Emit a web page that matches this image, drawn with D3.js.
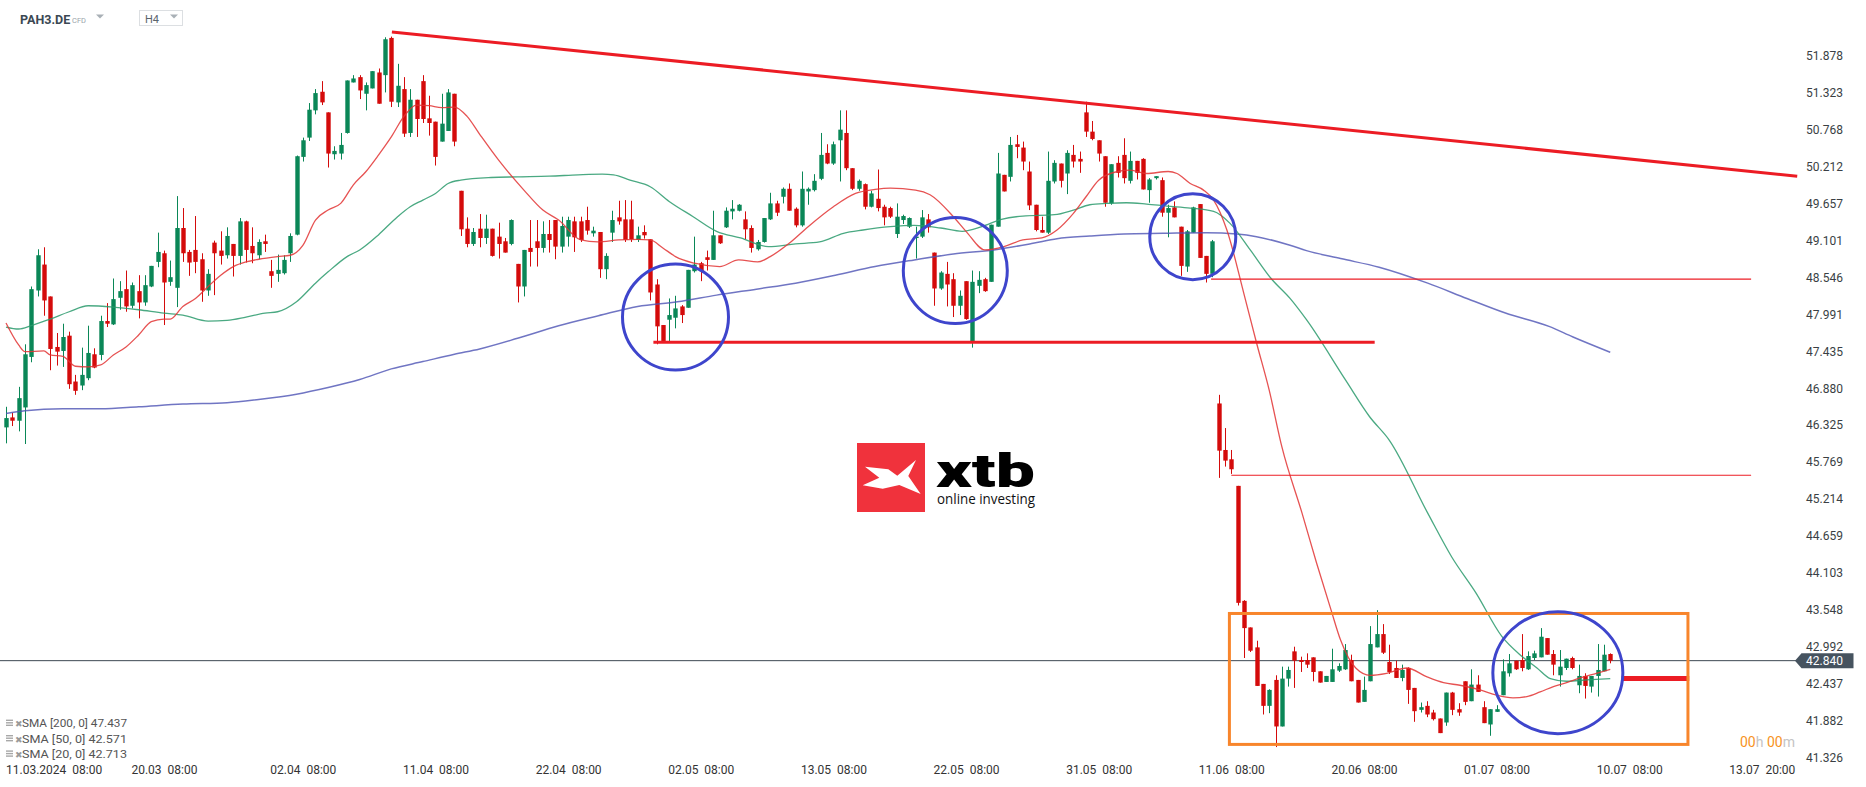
<!DOCTYPE html>
<html><head><meta charset="utf-8">
<script src="https://cdn.jsdelivr.net/npm/d3@7"></script>
<style>html,body{margin:0;padding:0;background:#fff;}svg{display:block;font-family:Roboto,"Noto Sans",sans-serif;}</style>
</head><body><svg id="c" width="1866" height="787"></svg>
<script>
// ---------- DATA (H4 candles, PAH3.DE) ----------
const opens=[46.29,46.44,46.39,46.59,47.35,48.35,48.74,48.26,47.50,47.44,
47.67,46.98,46.92,47.03,47.39,47.38,47.89,47.84,48.24,48.37,
48.12,48.34,48.17,48.41,48.78,48.91,48.48,48.39,49.29,48.93,
48.96,48.82,48.35,49.07,48.95,48.88,49.05,48.87,49.39,49.02,
48.88,49.09,48.64,48.60,48.61,48.91,49.19,50.36,50.65,51.06,
51.34,51.03,50.40,50.41,50.72,51.48,51.56,51.31,51.39,51.63,
51.59,52.15,51.18,51.38,50.72,51.22,51.50,50.94,50.89,50.59,
50.75,51.31,49.85,49.28,49.05,49.28,49.14,49.28,49.16,49.09,
49.05,48.75,48.41,48.99,49.09,48.99,49.20,49.41,49.01,49.16,
49.39,49.39,49.41,49.21,49.23,48.67,49.22,49.45,49.42,49.42,
49.11,49.23,49.12,48.44,47.83,47.91,47.94,48.11,48.09,48.64,
48.76,48.85,48.81,49.18,49.30,49.54,49.55,49.42,49.29,48.97,
49.08,49.42,49.66,49.76,49.88,49.58,49.33,49.84,49.86,50.03,
50.42,50.26,50.61,50.72,50.19,49.88,49.95,49.61,49.73,49.61,
49.59,49.20,49.41,49.31,49.14,49.16,49.42,48.92,48.38,48.60,
48.52,48.12,48.49,47.59,48.42,48.52,48.48,49.31,50.09,50.06,
50.55,50.50,50.14,49.64,49.26,49.22,49.99,50.26,50.11,50.39,
50.33,51.03,50.74,50.61,50.37,49.66,50.27,50.39,50.00,50.30,
50.33,49.86,50.04,50.01,49.52,49.60,49.31,48.71,49.22,49.65,
48.87,48.60,46.65,45.95,45.81,45.41,43.68,43.28,42.98,42.43,
42.10,42.49,41.79,42.51,42.92,42.79,42.79,42.83,42.62,42.46,
42.46,42.63,42.65,42.79,42.49,42.16,42.47,42.98,43.18,42.76,
42.67,42.52,42.67,42.37,42.04,42.10,42.00,41.91,41.85,42.30,
42.05,42.47,42.17,42.42,42.08,41.82,42.01,42.26,42.59,42.78,
42.79,42.65,42.82,42.83,43.12,42.88,42.56,42.67,42.82,42.41,
42.55,42.39,42.55,42.62,42.88];
const highs=[46.60,46.51,46.90,47.54,48.41,48.97,49.00,48.26,47.71,47.85,
47.73,47.08,47.49,47.82,47.48,47.97,48.16,48.53,48.49,48.65,
48.47,48.58,48.58,48.72,49.22,48.95,48.80,49.77,49.59,48.96,
49.47,48.91,48.67,49.10,49.24,49.30,49.05,49.44,49.40,49.30,
49.12,49.19,48.81,48.89,48.88,49.21,50.38,50.65,51.17,51.38,
51.50,51.03,50.52,50.72,51.51,51.59,51.59,51.48,51.65,51.69,
52.16,52.17,51.76,51.56,51.38,51.22,51.59,51.28,50.89,51.31,
51.38,51.31,49.85,49.45,49.29,49.50,49.49,49.28,49.37,49.14,
49.42,48.75,48.96,49.41,49.41,49.39,49.41,49.41,49.46,49.46,
49.46,49.46,49.61,49.31,49.23,48.91,49.55,49.70,49.71,49.70,
49.31,49.33,49.12,48.52,47.83,48.23,48.27,48.13,48.66,49.16,
48.78,48.95,49.55,49.18,49.60,49.71,49.65,49.54,49.33,49.11,
49.44,49.82,49.70,49.90,49.96,49.60,50.14,49.90,50.10,50.72,
50.55,50.59,51.06,51.06,50.19,50.02,49.96,49.85,50.17,49.64,
49.61,49.66,49.49,49.45,49.31,49.56,49.50,48.92,48.64,48.78,
48.61,48.35,48.49,48.65,48.64,48.54,49.34,50.42,50.09,50.66,
50.69,50.59,50.29,49.64,49.46,50.44,50.31,50.26,50.46,50.54,
50.44,51.19,50.90,50.61,50.37,50.25,50.37,50.64,50.44,50.30,
50.34,50.04,50.07,50.05,49.64,49.69,49.31,49.26,49.61,49.65,
48.87,49.11,46.78,46.28,45.95,45.41,43.69,43.28,43.08,42.43,
42.35,42.56,42.69,42.69,42.99,42.84,42.89,42.83,42.62,42.55,
42.96,42.74,43.03,42.87,42.49,42.54,43.30,43.54,43.33,43.02,
42.78,42.72,42.68,42.37,42.15,42.17,42.04,41.91,42.30,42.31,
42.14,42.47,42.65,42.56,42.17,42.05,42.11,42.80,42.88,42.78,
43.18,42.92,42.93,43.27,43.12,42.94,42.94,42.81,42.84,42.72,
42.59,42.55,43.03,43.02,42.89];
const lows=[46.05,46.31,46.23,46.04,47.27,48.26,47.97,47.15,47.22,47.20,
46.87,46.78,46.85,47.00,47.18,47.30,47.80,47.83,48.06,48.03,
48.08,47.93,48.12,48.40,48.70,47.83,48.42,48.10,48.78,48.57,
48.61,48.18,48.27,48.28,48.74,48.83,48.56,48.74,48.77,48.76,
48.82,48.93,48.39,48.48,48.59,48.78,49.18,50.29,50.60,51.00,
51.14,50.20,50.32,50.32,50.71,51.48,51.23,51.06,51.39,51.16,
51.33,51.11,51.11,50.66,50.66,50.66,50.87,50.68,50.23,50.59,
50.75,50.52,49.17,49.00,49.02,49.00,49.05,48.86,48.83,48.92,
49.03,48.17,48.26,48.71,48.71,48.92,48.92,48.82,48.92,49.01,
48.93,49.08,49.19,49.16,48.54,48.52,49.08,49.34,49.08,49.08,
49.08,49.13,48.20,47.54,47.57,47.59,47.78,47.86,48.09,48.62,
48.49,48.65,48.81,49.05,49.29,49.42,49.54,49.12,48.92,48.95,
49.07,49.41,49.47,49.66,49.55,49.30,49.31,49.64,49.84,50.01,
50.25,50.24,49.99,50.16,49.86,49.85,49.57,49.60,49.54,49.33,
49.44,49.14,49.35,49.29,48.83,49.14,49.22,48.12,48.36,48.11,
47.95,47.98,47.91,47.49,48.31,48.33,48.48,49.31,49.84,49.99,
50.34,50.16,49.56,49.24,49.22,49.20,49.96,49.90,49.80,50.20,
50.12,50.66,50.61,50.29,49.61,49.64,50.05,49.96,49.96,50.02,
49.87,49.67,50.02,49.46,49.15,49.45,48.57,48.63,49.22,48.84,
48.47,48.55,45.53,45.70,45.59,43.61,42.82,42.91,42.40,41.97,
41.99,41.48,41.79,42.39,42.37,42.61,42.67,42.47,42.45,42.46,
42.46,42.61,42.64,42.47,42.15,42.16,42.47,42.98,42.88,42.58,
42.52,42.47,42.13,41.86,42.00,41.93,41.88,41.69,41.80,41.96,
41.95,42.11,42.17,42.31,41.84,41.65,42.01,42.26,42.54,42.64,
42.62,42.64,42.79,42.83,42.87,42.56,42.39,42.64,42.65,42.29,
42.21,42.30,42.24,42.62,42.74];
const closes=[46.43,46.39,46.73,47.39,48.37,48.88,48.20,47.47,47.43,47.65,
46.94,46.84,47.08,47.41,47.19,47.89,47.85,48.22,48.34,48.11,
48.43,48.17,48.43,48.72,48.93,48.47,48.55,49.29,48.91,48.77,
48.78,48.35,48.60,48.91,48.87,49.17,48.87,49.39,48.96,48.91,
49.08,49.05,48.57,48.66,48.81,49.17,50.37,50.61,51.07,51.32,
51.18,50.41,50.45,50.54,51.51,51.54,51.36,51.44,51.65,51.16,
52.13,51.19,51.43,50.71,51.22,50.93,50.93,50.87,50.36,50.86,
51.33,50.59,49.27,49.05,49.23,49.14,49.28,48.87,49.05,48.92,
49.41,48.41,48.96,48.93,48.99,49.20,49.11,49.01,49.32,49.41,
49.15,49.11,49.25,49.25,48.67,48.87,49.41,49.39,49.11,49.12,
49.18,49.18,48.32,47.81,47.59,47.98,48.08,47.98,48.66,48.74,
48.64,48.81,49.18,49.06,49.55,49.58,49.64,49.27,48.99,49.08,
49.44,49.66,49.52,49.88,49.55,49.33,49.88,49.88,50.00,50.39,
50.26,50.55,50.77,50.19,49.88,50.00,49.61,49.81,49.59,49.45,
49.46,49.46,49.47,49.44,49.16,49.45,49.30,48.38,48.62,48.44,
48.12,48.27,47.92,48.48,48.51,48.34,49.34,50.11,49.84,50.54,
50.51,50.29,49.63,49.26,49.22,50.00,50.27,50.00,50.42,50.29,
50.29,50.74,50.63,50.41,49.67,50.25,50.12,50.04,50.30,50.12,
49.87,50.02,50.07,49.52,49.59,49.45,48.72,49.24,49.60,48.84,
48.60,49.09,45.94,45.79,45.66,43.65,43.27,42.93,42.40,42.10,
42.34,41.79,42.51,42.64,42.78,42.76,42.72,42.61,42.45,42.55,
42.65,42.70,42.94,42.47,42.15,42.34,43.03,43.18,42.90,42.61,
42.52,42.64,42.34,42.02,42.08,41.97,41.90,41.69,42.30,42.04,
42.00,42.16,42.42,42.31,41.84,42.05,42.05,42.62,42.74,42.65,
42.67,42.85,42.89,43.14,42.87,42.72,42.69,42.81,42.67,42.55,
42.40,42.55,42.64,42.87,42.78];

// moving averages: [candle index, value]
const sma20=[[0,47.86],[2,47.53],[3,47.43],[6,47.44],[7,47.38],[9,47.36],[11,47.21],[13,47.20],[15,47.23],[17,47.38],[19,47.50],[21,47.68],[23,47.88],[25,47.92],[26,47.92],[28,48.11],[30,48.23],[32,48.41],[34,48.58],[36,48.71],[38,48.78],[40,48.82],[43,48.86],[45,48.88],[47,49.03],[49,49.41],[51,49.56],[53,49.66],[55,49.94],[57,50.14],[59,50.39],[61,50.66],[63,50.97],[65,51.14],[67,51.13],[69,51.10],[71,51.11],[73,50.97],[75,50.70],[78,50.31],[82,49.86],[85,49.56],[87.5,49.41],[91,49.11],[93.7,49.08],[97,49.11],[100,49.12],[102,49.11],[104,48.99],[106,48.86],[109,48.76],[113,48.71],[116,48.81],[119,48.78],[121,48.86],[124,49.06],[127,49.31],[131,49.61],[134.5,49.81],[137.6,49.87],[140,49.89],[144,49.86],[146.3,49.79],[150,49.46],[152,49.24],[155,48.96],[158,49.01],[161,49.11],[164,49.14],[166.4,49.26],[169,49.51],[171,49.76],[173,50.01],[176,50.14],[178,50.16],[180.6,50.11],[184,50.14],[185.4,50.11],[187.5,49.96],[189.6,49.86],[191.2,49.71],[193.3,49.26],[196,48.30],[198,47.56],[200,46.85],[202,46.00],[205.2,45.00],[207.5,44.25],[209.8,43.54],[211.3,43.09],[213.7,42.67],[216,42.56],[218.6,42.59],[221.8,42.67],[224.9,42.54],[227.6,42.45],[230.2,42.41],[233.4,42.34],[236,42.26],[238.6,42.22],[240.8,42.24],[242.9,42.31],[245,42.39],[247.1,42.45],[249.2,42.52],[251.8,42.59],[254,42.65]];
const sma50=[[0,47.80],[2,47.77],[4,47.82],[7,47.92],[10,48.03],[13,48.12],[17,48.10],[21,48.06],[25,48.01],[28,47.98],[32,47.89],[35,47.90],[38,47.95],[41,48.01],[43,48.03],[46,48.18],[49,48.46],[51,48.63],[54,48.86],[56,48.96],[59,49.19],[62,49.46],[64,49.61],[66,49.71],[68,49.81],[70,49.96],[72,50.01],[76.8,50.05],[81,50.06],[86,50.07],[90.6,50.09],[94.4,50.10],[96.2,50.09],[98.8,50.01],[102,49.91],[105,49.69],[108.8,49.46],[112.5,49.24],[116.3,49.14],[120.7,49.01],[125,49.05],[128.8,49.08],[132.6,49.21],[135.7,49.26],[140,49.31],[143.8,49.33],[148,49.29],[151.4,49.24],[154.5,49.31],[157.6,49.42],[161,49.47],[166,49.49],[169,49.56],[171.6,49.64],[174.3,49.66],[177.4,49.67],[180.6,49.65],[183.8,49.62],[187.5,49.59],[191.2,49.54],[193.8,49.36],[197,48.96],[200.3,48.53],[203.3,48.23],[205.9,47.91],[212.1,47.00],[215.9,46.45],[219,46.10],[225.1,45.00],[228.9,44.34],[232.8,43.79],[236.8,43.15],[239.7,42.87],[242.4,42.67],[244.5,42.51],[247.1,42.47],[250.3,42.49],[254,42.51]];
const sma200=[[0,46.50],[3,46.54],[9,46.57],[15,46.57],[21,46.60],[28,46.64],[35,46.66],[40,46.71],[46,46.79],[51,46.89],[56,47.01],[61,47.17],[66,47.28],[71,47.39],[75,47.47],[81,47.63],[87.5,47.82],[93.8,47.97],[100,48.11],[106.3,48.18],[112.5,48.28],[118.8,48.37],[125,48.46],[131.3,48.58],[137.6,48.71],[143.8,48.81],[150,48.90],[156.4,48.96],[162.6,49.06],[166.4,49.13],[171.6,49.17],[177,49.20],[183.2,49.21],[190.1,49.22],[194.9,49.20],[198,49.16],[203.3,49.03],[205.9,48.95],[211.3,48.83],[217.4,48.70],[225.1,48.46],[231.3,48.23],[237.4,48.01],[244.3,47.81],[248.1,47.65],[254,47.42]];

// axes
const yTicks=[51.878,51.323,50.768,50.212,49.657,49.101,48.546,47.991,47.435,46.880,46.325,45.769,45.214,44.659,44.103,43.548,42.992,42.437,41.882,41.326];
const xTickIdx=[4,25,47,68,89,110,131,152,173,194,215,236,257,278];
const xTickText=["11.03.2024\u00a0\u00a008:00","20.03\u00a0\u00a008:00","02.04\u00a0\u00a008:00","11.04\u00a0\u00a008:00","22.04\u00a0\u00a008:00","02.05\u00a0\u00a008:00","13.05\u00a0\u00a008:00","22.05\u00a0\u00a008:00","31.05\u00a0\u00a008:00","11.06\u00a0\u00a008:00","20.06\u00a0\u00a008:00","01.07\u00a0\u00a008:00","10.07\u00a0\u00a008:00","13.07\u00a0\u00a020:00"];
const lastPriceText="42.840";
const legendRows=[["SMA [200, 0]","47.437"],["SMA [50, 0]","42.571"],["SMA [20, 0]","42.713"]];

// drawn annotations (index, price)
const trendLine=[[61.1,52.24],[283.6,50.07]];
const supportLine=[[102.5,47.57],[216.7,47.57]];
const thinLines=[[[190.8,48.52],[276.3,48.52]],[[194,45.57],[276.3,45.57]]];
const targetLine=[[255.8,42.51],[266.5,42.51]];
const rangeBox=[[193.7,43.49],[266.3,41.52]];
const circleCenters=[[106.0,47.95],[150.3,48.65],[187.9,49.16],[245.7,42.60]];
const circleRadii=[[53,53],[52,53],[43,43],[65,61]];

// ---------- DRAW ----------
const svg=d3.select('#c');
const x=d3.scaleLinear().domain([0,278]).range([6,6+278*6.316]);
const y=d3.scaleLinear().domain([41.326,51.878]).range([757.3,56]);
const GREEN="#0a8757", RED="#d40b0b", ANN="#ec1c24";

svg.append('rect').attr('width',1866).attr('height',787).attr('fill','#fff');

// header
const hd=svg.append('g');
hd.append('text').attr('x',20).attr('y',23.5).attr('font-size',12.5).attr('font-weight',700).attr('fill','#3b4853').text('PAH3.DE');
hd.append('text').attr('x',72).attr('y',23).attr('font-size',7.5).attr('fill','#9aa3aa').text('CFD');
hd.append('path').attr('d','M96,14.5 L104,14.5 L100,18.5 Z').attr('fill','#a9b0b6');
hd.append('rect').attr('x',139.5).attr('y',10.5).attr('width',43).attr('height',15).attr('fill','#fff').attr('stroke','#dcdfe2');
hd.append('text').attr('x',145).attr('y',23).attr('font-size',11).attr('fill','#5a646c').text('H4');
hd.append('path').attr('d','M170,14.5 L178,14.5 L174,18.5 Z').attr('fill','#a9b0b6');

// logo watermark
const lg=svg.append('g');
lg.append('rect').attr('x',857).attr('y',443).attr('width',68).attr('height',69).attr('fill','#f0323c');
lg.append('path').attr('d','M865,466.7 L888.3,469.3 L897.3,475.7 L916,460 L908.3,476 L920.7,494 L899.3,485 L882.7,488.7 L862.7,485.3 L879.3,477.7 Z').attr('fill','#fff');
lg.append('text').attr('x',936).attr('y',486.5).attr('font-size',46).attr('font-weight',900).attr('font-family','Roboto,Arial,sans-serif').attr('fill','#000').attr('textLength',99).attr('lengthAdjust','spacingAndGlyphs').text('xtb');
lg.append('text').attr('x',937).attr('y',504).attr('font-size',14).attr('font-family','"Open Sans",sans-serif').attr('fill','#111').attr('textLength',98).attr('lengthAdjust','spacingAndGlyphs').text('online investing');

// last price line
const lastY=y(closes[closes.length-1]);
svg.append('line').attr('x1',0).attr('x2',1796).attr('y1',lastY).attr('y2',lastY).attr('stroke','#3d4852').attr('stroke-width',1);

// candles
const cg=svg.append('g');
const bw=4.4;
closes.forEach((c,i)=>{
  const o=opens[i], col=c>=o?GREEN:RED, cx=Math.round(x(i))+0.5;
  cg.append('line').attr('x1',cx).attr('x2',cx).attr('y1',y(highs[i])).attr('y2',y(lows[i])).attr('stroke',col).attr('stroke-width',1);
  const top=y(Math.max(o,c)), bot=y(Math.min(o,c));
  cg.append('rect').attr('x',cx-bw/2).attr('y',top).attr('width',bw).attr('height',Math.max(1,bot-top)).attr('fill',col);
});

// moving averages
const ln=d3.line().x(d=>x(d[0])).y(d=>y(d[1])).curve(d3.curveMonotoneX);
svg.append('path').attr('d',ln(sma200)).attr('fill','none').attr('stroke','#4c52b4').attr('stroke-opacity',0.8).attr('stroke-width',1.5);
svg.append('path').attr('d',ln(sma50)).attr('fill','none').attr('stroke','#2a9a6c').attr('stroke-opacity',0.85).attr('stroke-width',1.3);
svg.append('path').attr('d',ln(sma20)).attr('fill','none').attr('stroke','#e23434').attr('stroke-opacity',0.85).attr('stroke-width',1.3);

// annotations
const sl=d3.line().x(d=>x(d[0])).y(d=>y(d[1]));
svg.append('path').attr('d',sl(trendLine)).attr('stroke',ANN).attr('stroke-width',3).attr('fill','none');
svg.append('path').attr('d',sl(supportLine)).attr('stroke',ANN).attr('stroke-width',3).attr('fill','none');
thinLines.forEach(l=>svg.append('path').attr('d',sl(l)).attr('stroke',ANN).attr('stroke-width',1.2).attr('fill','none'));
svg.append('path').attr('d',sl(targetLine)).attr('stroke',ANN).attr('stroke-width',5).attr('fill','none');
svg.append('rect').attr('x',x(rangeBox[0][0])).attr('y',y(rangeBox[0][1]))
  .attr('width',x(rangeBox[1][0])-x(rangeBox[0][0])).attr('height',y(rangeBox[1][1])-y(rangeBox[0][1]))
  .attr('fill','none').attr('stroke','#f8852b').attr('stroke-width',3);
circleCenters.forEach((c,k)=>svg.append('ellipse').attr('cx',x(c[0])).attr('cy',y(c[1])).attr('rx',circleRadii[k][0]).attr('ry',circleRadii[k][1]).attr('fill','none').attr('stroke','#3e45cc').attr('stroke-width',3));

// y axis
const ya=svg.append('g').attr('transform','translate(1806,0)')
  .call(d3.axisRight(y).tickValues(yTicks).tickFormat(d3.format('.3f')).tickSize(0).tickPadding(0));
ya.select('.domain').remove();
ya.selectAll('text').attr('font-size',12).attr('font-family','Roboto,sans-serif').attr('fill','#3a3f44');

// last price box
svg.append('path').attr('d',`M1795,${lastY} L1801.5,${lastY-7.5} L1853.5,${lastY-7.5} L1853.5,${lastY+7.5} L1801.5,${lastY+7.5} Z`).attr('fill','#46535f');
svg.append('text').attr('x',1806).attr('y',lastY).attr('dy','0.35em').attr('font-size',12).attr('fill','#fff').text(lastPriceText);

// x axis
const xa=svg.append('g').attr('transform','translate(0,765.5)')
  .call(d3.axisBottom(x).tickValues(xTickIdx).tickFormat((d,k)=>xTickText[k]).tickSize(0).tickPadding(0));
xa.select('.domain').remove();
xa.selectAll('text').attr('font-size',12).attr('font-family','Roboto,sans-serif').attr('fill','#333');
xa.selectAll('text').each(function(){
  const w=this.getComputedTextLength(); const t=d3.select(this.parentNode).attr('transform');
  const tx=+t.match(/translate\(([-\d.]+)/)[1];
  if(tx-w/2<6){d3.select(this).attr('text-anchor','start').attr('x',6-tx);}
});

// countdown
const cd=svg.append('text').attr('x',1740).attr('y',746.5).attr('font-size',14).attr('font-family','Roboto,sans-serif');
cd.append('tspan').attr('fill','#f7931e').text('00');
cd.append('tspan').attr('fill','#c4c4c4').text('h ');
cd.append('tspan').attr('fill','#f7931e').text('00');
cd.append('tspan').attr('fill','#c4c4c4').text('m');

// legend
legendRows.forEach((r,k)=>{
  const yy=723.6+k*15.4;
  const g=svg.append('g');
  [0,2.5,5].forEach(o=>g.append('rect').attr('x',6).attr('y',yy-4+o).attr('width',7).attr('height',1.4).attr('fill','#a8a8a8'));
  g.append('text').attr('x',14.5).attr('y',yy+3.5).attr('font-size',9).attr('fill','#9a9a9a').text('\u2716');
  g.append('text').attr('x',22).attr('y',yy+3.8).attr('font-size',10.5).attr('fill','#555').attr('textLength',105).attr('lengthAdjust','spacingAndGlyphs').text(r[0]+' '+r[1]);
});
</script></body></html>
